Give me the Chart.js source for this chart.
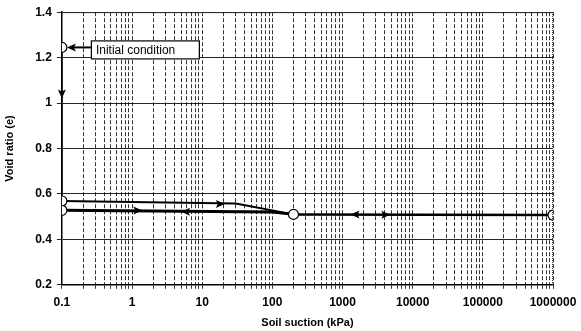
<!DOCTYPE html>
<html>
<head>
<meta charset="utf-8">
<script src="https://cdn.jsdelivr.net/npm/chart.js@4.4.0/dist/chart.umd.min.js"></script>
<style>
  html, body { margin: 0; padding: 0; background: #fff; }
  #wrap { width: 581px; height: 331px; position: relative; }
</style>
</head>
<body>
<div id="wrap"><canvas id="chart"></canvas></div>
<script>
// decade ticks and labels on the suction axis
const decades = [0.1, 1, 10, 100, 1000, 10000, 100000, 1000000];
const decadeLabels = ['0.1', '1', '10', '100', '1000', '10000', '100000', '1000000'];
const minorSteps = [2, 3, 4, 5, 6, 7, 8, 9];

// void ratio paths (suction kPa, void ratio)
const initialX = [0.1, 0.1];
const initialY = [1.245, 0.569];
const upperX = [0.1, 30, 200];
const upperY = [0.569, 0.558, 0.51];
const lowerX = [0.1, 100, 200];
const lowerY = [0.528, 0.52, 0.51];
const dryX = [200, 1000000];
const dryY = [0.51, 0.507];
const markerX = [0.1, 0.1, 0.1, 200, 1000000];
const markerY = [1.245, 0.569, 0.528, 0.51, 0.507];

// arrow heads along the paths: x, y, direction
const arrowX = [0.1, 21, 1.4, 5, 1300, 4800];
const arrowY = [1.02, 0.556, 0.527, 0.522, 0.509, 0.508];
const arrowDir = ['down', 'right', 'right', 'left', 'left', 'right'];

const toPts = (xs, ys) => xs.map((x, i) => ({ x: x, y: ys[i] }));

const FONT = "'Liberation Sans', Arial, sans-serif";

// all gridline positions on the log axis
const gridTicks = [];
decades.forEach((d, i) => {
  gridTicks.push(d);
  if (i < decades.length - 1) minorSteps.forEach(m => gridTicks.push(+(d * m).toPrecision(3)));
});

const extras = {
  id: 'extras',
  afterDatasetsDraw(chart) {
    const { ctx, chartArea: a, scales: { x, y } } = chart;
    ctx.save();
    // dotted top/right frame
    ctx.strokeStyle = '#333';
    ctx.lineWidth = 1;
    ctx.setLineDash([1, 1]);
    ctx.beginPath();
    ctx.moveTo(a.left, a.top + 0.5);
    ctx.lineTo(a.right - 0.5, a.top + 0.5);
    ctx.lineTo(a.right - 0.5, a.bottom);
    ctx.stroke();
    ctx.setLineDash([]);

    const head = (px, py, dir) => {
      const ang = { right: 0, left: Math.PI, down: Math.PI / 2, up: -Math.PI / 2 }[dir];
      ctx.save();
      ctx.translate(px, py);
      ctx.rotate(ang);
      ctx.fillStyle = '#000';
      ctx.beginPath();
      ctx.moveTo(0, 0);
      ctx.lineTo(-9, -4);
      ctx.lineTo(-7, 0);
      ctx.lineTo(-9, 4);
      ctx.closePath();
      ctx.fill();
      ctx.restore();
    };
    arrowX.forEach((v, i) => head(x.getPixelForValue(v), y.getPixelForValue(arrowY[i]), arrowDir[i]));

    // "Initial condition" callout
    const px = x.getPixelForValue(markerX[0]);
    const py = y.getPixelForValue(markerY[0]);
    const bx = px + 29, by = py - 7, bw = 108, bh = 18;
    ctx.fillStyle = '#fff';
    ctx.fillRect(bx, by, bw, bh);
    ctx.strokeStyle = '#000';
    ctx.lineWidth = 1.2;
    ctx.strokeRect(bx + 0.5, by + 0.5, bw, bh);
    ctx.font = '12px ' + FONT;
    ctx.fillStyle = '#000';
    ctx.textBaseline = 'middle';
    ctx.fillText('Initial condition', bx + 5, by + bh / 2 + 1);
    ctx.lineWidth = 2;
    ctx.beginPath();
    ctx.moveTo(bx, py);
    ctx.lineTo(px + 10, py);
    ctx.stroke();
    head(px + 5, py, 'left');
    ctx.restore();
  }
};

const lineDs = (pts, w) => ({
  type: 'line', data: pts, borderColor: '#000', borderWidth: w,
  pointRadius: 0, fill: false, tension: 0, order: 2
});

new Chart(document.getElementById('chart'), {
  type: 'scatter',
  data: {
    datasets: [
      lineDs(toPts(initialX, initialY), 1.6),
      lineDs(toPts(upperX, upperY), 2),
      lineDs(toPts(lowerX, lowerY), 3),
      lineDs(toPts(dryX, dryY), 2.5),
      {
        data: toPts(markerX, markerY), pointRadius: 5, pointBackgroundColor: '#fff',
        pointBorderColor: '#000', pointBorderWidth: 1.2, showLine: false, order: 1
      }
    ]
  },
  options: {
    responsive: true,
    maintainAspectRatio: false,
    animation: false,
    events: [],
    layout: { padding: { top: 8, right: 0, left: 3, bottom: 1 } },
    plugins: { legend: { display: false }, tooltip: { enabled: false } },
    scales: {
      x: {
        type: 'logarithmic',
        min: 0.1, max: 1000000,
        afterBuildTicks: s => { s.ticks = gridTicks.map(v => ({ value: v })); },
        afterFit: s => { s.paddingRight = 28; },
        ticks: {
          autoSkip: false, maxRotation: 0, color: '#000', padding: 8,
          font: { family: FONT, size: 12, weight: 'bold', lineHeight: 1 },
          callback: v => { const i = decades.indexOf(v); return i >= 0 ? decadeLabels[i] : ''; }
        },
        grid: { color: 'rgba(0,0,0,0.8)', lineWidth: 1, tickLength: 4 },
        border: { color: '#000', width: 1.5, dash: [4, 2] },
        title: { display: true, text: 'Soil suction (kPa)', color: '#000', padding: { top: 0, bottom: 0 },
          font: { family: FONT, size: 11, weight: 'bold' } }
      },
      y: {
        min: 0.2, max: 1.4,
        ticks: { stepSize: 0.2, color: '#000', padding: 5,
          font: { family: FONT, size: 12, weight: 'bold' },
          callback: v => String(+v.toFixed(1)) },
        grid: { color: 'rgba(0,0,0,0.85)', lineWidth: 1, tickLength: 5 },
        border: { color: '#000', width: 1.5 },
        title: { display: true, text: 'Void ratio (e)', color: '#000', padding: { top: 0, bottom: 14 },
          font: { family: FONT, size: 11, weight: 'bold' } }
      }
    }
  },
  plugins: [extras]
});
</script>
</body>
</html>
